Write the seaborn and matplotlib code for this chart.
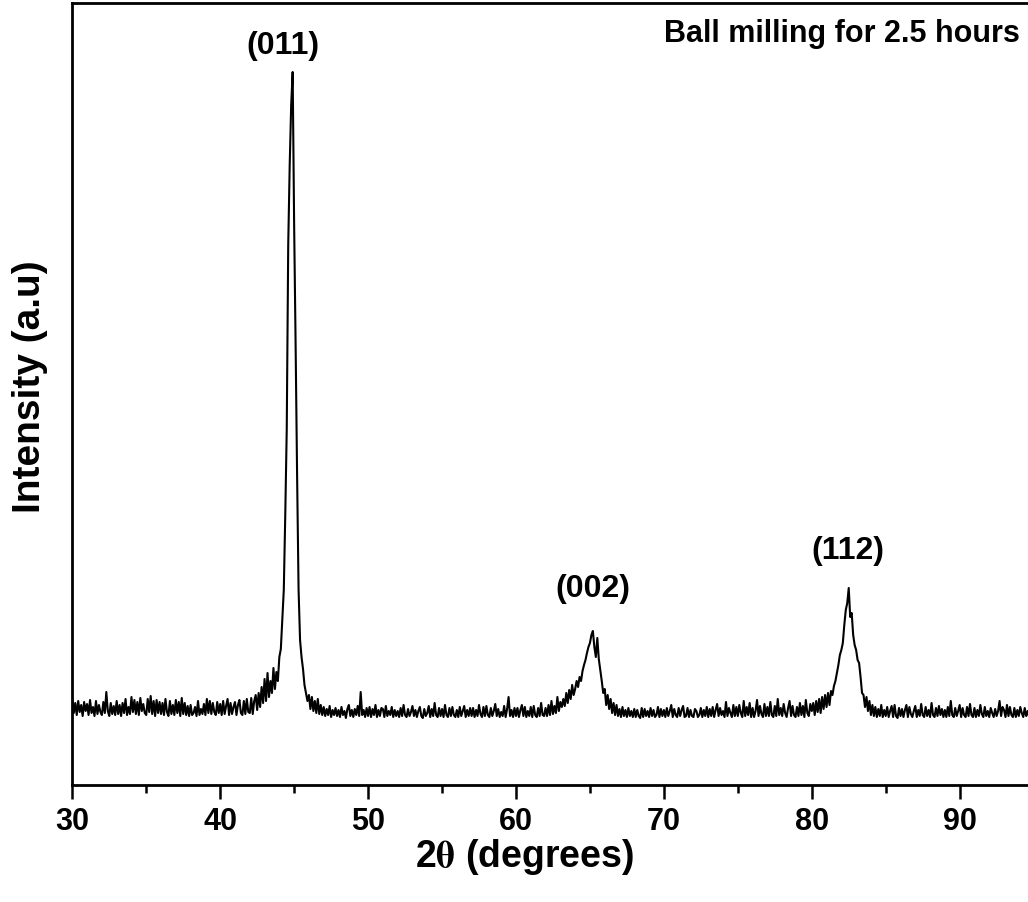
import numpy as np
import pandas as pd
import matplotlib
matplotlib.use("Agg")
import matplotlib.pyplot as plt
import seaborn as sns
from matplotlib.ticker import MultipleLocator

two_theta = np.round(np.linspace(30.0, 95.0, 651), 1)

intensity = [
    86, 72, 82, 70, 84, 73, 80, 69, 83, 74,   # 30
    81, 70, 85, 72, 78, 69, 84, 71, 80, 73,   # 31
    70, 83, 72, 93, 74, 69, 82, 71, 79, 70,   # 32
    84, 71, 80, 69, 82, 72, 86, 70, 78, 71,   # 33
    88, 73, 85, 71, 83, 70, 87, 74, 81, 72,   # 34
    70, 86, 73, 89, 71, 84, 69, 85, 72, 83,   # 35
    71, 82, 70, 86, 73, 69, 84, 71, 80, 70,   # 36
    85, 72, 83, 69, 87, 71, 82, 70, 79, 69,   # 37
    80, 70, 72, 78, 69, 84, 70, 76, 71, 81,   # 38
    70, 86, 72, 84, 71, 82, 73, 70, 83, 72,   # 39
    81, 70, 84, 71, 79, 86, 70, 82, 71, 78,   # 40
    83, 70, 80, 85, 72, 70, 84, 71, 86, 73,   # 41
    72, 87, 71, 84, 90, 75, 92, 78, 98, 82,   # 42
    106, 84, 112, 88, 104, 92, 117, 96, 113, 104,      # 43
    128, 136, 165, 195, 270, 356, 540, 620, 680, 713,  # 44
    560, 440, 310, 195, 145, 128, 116, 100, 92, 84,    # 45
    90, 76, 88, 74, 84, 72, 86, 71, 80, 70,   # 46
    78, 69, 76, 70, 79, 68, 75, 70, 77, 69,   # 47
    75, 68, 78, 70, 74, 67, 76, 80, 69, 75,   # 48
    68, 76, 70, 79, 69, 93, 70, 75, 68, 77,   # 49
    69, 78, 68, 76, 70, 80, 68, 75, 69, 77,   # 50
    76, 68, 79, 69, 74, 70, 78, 68, 75, 69,   # 51
    74, 68, 77, 69, 80, 70, 68, 76, 69, 73,   # 52
    79, 69, 75, 68, 74, 78, 69, 67, 76, 69,   # 53
    72, 79, 68, 76, 69, 82, 70, 68, 77, 69,   # 54
    76, 68, 80, 70, 68, 77, 69, 78, 70, 68,   # 55
    75, 68, 78, 69, 74, 79, 68, 75, 69, 77,   # 56
    69, 77, 68, 75, 69, 80, 71, 68, 78, 69,   # 57
    79, 70, 68, 77, 69, 74, 81, 69, 76, 68,   # 58
    73, 69, 79, 68, 76, 88, 69, 75, 68, 77,   # 59
    69, 77, 68, 75, 80, 69, 78, 68, 74, 69,   # 60
    78, 68, 79, 70, 68, 77, 69, 82, 70, 69,   # 61
    77, 69, 80, 70, 84, 71, 79, 72, 88, 74,   # 62
    83, 78, 86, 79, 92, 82, 95, 86, 100, 90,  # 63
    96, 104, 98, 108, 104, 114, 120, 125, 132, 138,   # 64
    142, 150, 154, 138, 128, 147, 126, 115, 104, 92,  # 65
    96, 80, 90, 76, 86, 72, 82, 70, 80, 69,   # 66
    76, 68, 78, 69, 75, 68, 77, 69, 74, 68,   # 67
    76, 68, 75, 69, 67, 77, 68, 76, 69, 74,   # 68
    68, 77, 69, 75, 68, 70, 78, 68, 76, 69,   # 69
    75, 68, 77, 69, 74, 80, 68, 76, 70, 68,   # 70
    77, 69, 75, 79, 68, 69, 77, 68, 75, 69,   # 71
    68, 76, 74, 68, 70, 77, 68, 75, 69, 78,   # 72
    68, 76, 69, 78, 68, 75, 81, 69, 77, 70,   # 73
    74, 68, 83, 69, 77, 72, 68, 80, 69, 78,   # 74
    69, 80, 72, 68, 84, 69, 78, 70, 82, 68,   # 75
    77, 68, 74, 85, 69, 79, 71, 68, 81, 69,   # 76
    78, 69, 83, 70, 68, 79, 69, 86, 70, 77,   # 77
    69, 81, 72, 68, 77, 84, 69, 79, 70, 68,   # 78
    78, 69, 82, 70, 79, 68, 85, 72, 69, 81,   # 79
    74, 82, 70, 84, 73, 86, 72, 88, 76, 90,   # 80
    78, 92, 80, 94, 90, 99, 104, 112, 120, 130,       # 81
    135, 142, 160, 175, 182, 197, 168, 172, 150, 140, # 82
    135, 125, 122, 108, 92, 90, 78, 88, 74, 84,       # 83
    70, 80, 69, 78, 68, 76, 69, 80, 68, 75,   # 84
    69, 78, 68, 74, 79, 68, 80, 69, 67, 77,   # 85
    69, 76, 68, 75, 80, 68, 78, 71, 68, 74,   # 86
    79, 68, 75, 69, 81, 70, 68, 78, 69, 75,   # 87
    68, 82, 70, 68, 77, 69, 79, 70, 76, 68,   # 88
    75, 68, 78, 69, 84, 70, 68, 77, 69, 74,   # 89
    80, 68, 77, 70, 68, 78, 69, 81, 70, 68,   # 90
    77, 68, 75, 69, 80, 71, 68, 78, 69, 74,   # 91
    68, 77, 72, 68, 76, 69, 74, 84, 69, 78,   # 92
    75, 68, 80, 69, 78, 70, 68, 77, 68, 75,   # 93
    69, 78, 72, 68, 77, 69, 74, 68, 79, 70,   # 94
    73,                                       # 95
]

peak_labels = ["(011)", "(002)", "(112)"]
peak_label_x = [44.25, 65.2, 82.45]
peak_label_y = [740, 197, 235]
sample_note = "Ball milling for 2.5 hours"
x_ticks = [30, 40, 50, 60, 70, 80, 90]

df = pd.DataFrame({"two_theta": two_theta, "intensity": intensity})

# ---- style ----
sns.set_style("ticks")
plt.rcParams["font.family"] = ["Liberation Sans", "DejaVu Sans"]
plt.rcParams["font.weight"] = "bold"
plt.rcParams["mathtext.fontset"] = "stix"
plt.rcParams["text.color"] = "black"
plt.rcParams["axes.labelcolor"] = "black"
plt.rcParams["xtick.color"] = "black"
plt.rcParams["ytick.color"] = "black"

W, H = 1028, 903
fig = plt.figure(figsize=(W / 100, H / 100), dpi=100)
fig.patch.set_facecolor("white")
left_px, right_px, top_px, bottom_px = 72.3, 1033.6, 4, 786
ax = fig.add_axes([left_px / W, 1 - bottom_px / H,
                   (right_px - left_px) / W, (bottom_px - top_px) / H])
ax.set_facecolor("white")

sns.lineplot(data=df, x="two_theta", y="intensity", ax=ax, color="black",
             linewidth=1.5, estimator=None, sort=False)

ax.set_xlim(30, 95)
ax.set_ylim(0, 782)
ax.set_yticks([])
ax.xaxis.set_major_locator(MultipleLocator(10))
ax.xaxis.set_minor_locator(MultipleLocator(5))
ax.set_xticks(x_ticks)
ax.set_xticklabels([str(t) for t in x_ticks])
ax.tick_params(axis="x", which="major", direction="out", length=10, width=1.8,
               labelsize=22, pad=5, colors="black")
ax.tick_params(axis="x", which="minor", direction="out", length=5.5, width=1.8,
               colors="black")
for lab in ax.get_xticklabels():
    lab.set_fontweight("bold")
    lab.set_color("black")

for side in ["left", "bottom", "top"]:
    ax.spines[side].set_linewidth(2.0)
    ax.spines[side].set_color("black")
ax.spines["right"].set_visible(False)

ax.set_xlabel(r"2$\mathrm{\theta}$ (degrees)", fontsize=27, fontweight="bold",
              color="black")
ax.xaxis.set_label_coords((525 - left_px) / (right_px - left_px),
                          (bottom_px - 857) / (bottom_px - top_px))
ax.xaxis.label.set_va("center")
ax.set_ylabel("Intensity (a.u)", fontsize=28, fontweight="bold", color="black")
ax.yaxis.set_label_coords((30 - left_px) / (right_px - left_px),
                          (bottom_px - 387) / (bottom_px - top_px))
ax.yaxis.label.set_va("center")

for lab, xx, yy in zip(peak_labels, peak_label_x, peak_label_y):
    ax.text(xx, yy, lab, ha="center", va="center", fontsize=23,
            fontweight="bold", color="black")

ax.text(94.08, 752, sample_note, ha="right", va="center", fontsize=22,
        fontweight="bold", color="black")

fig.savefig("out.png", dpi=100, facecolor="white")
